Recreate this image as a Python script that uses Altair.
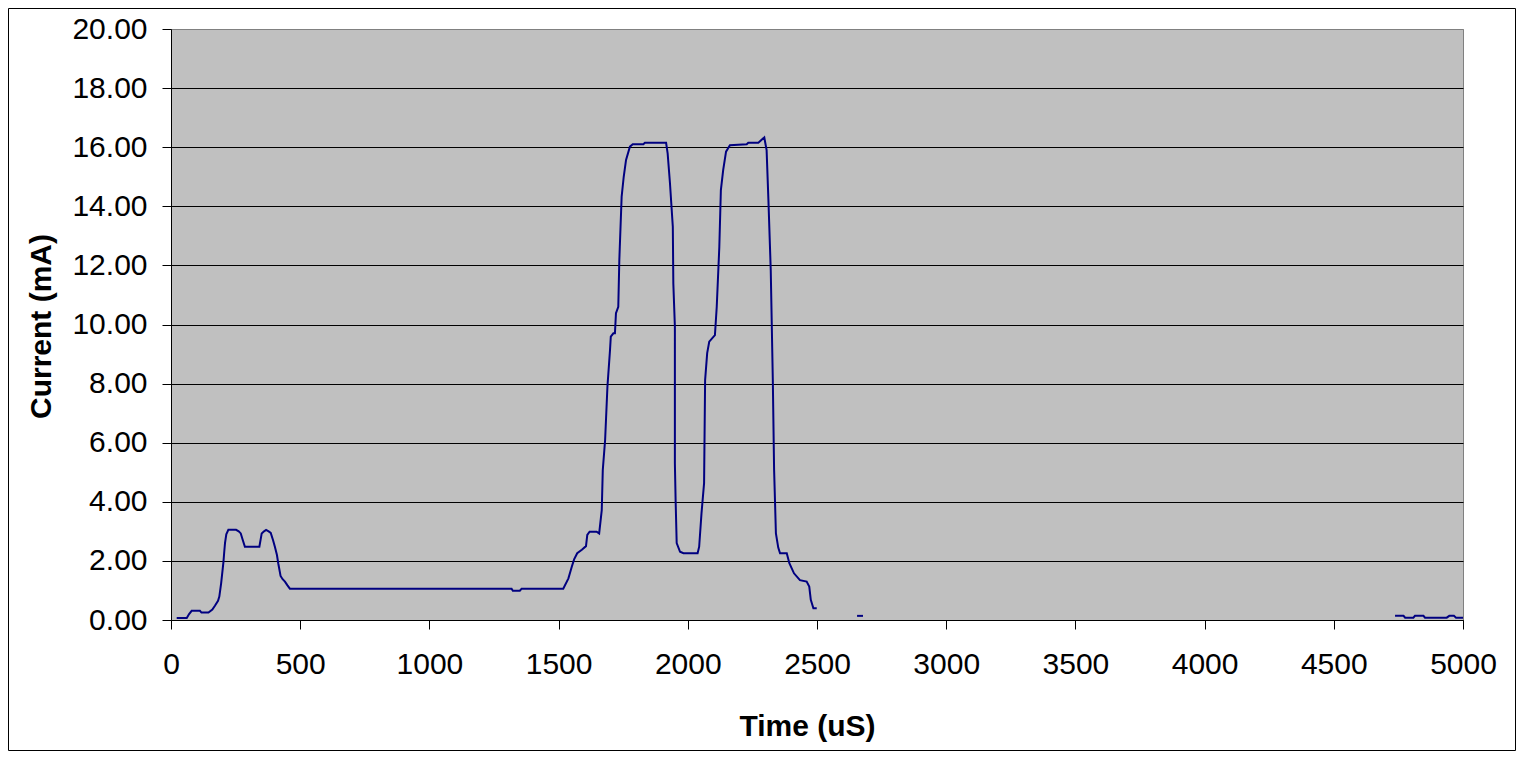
import altair as alt
import pandas as pd

# Segment A (main trace)
time_a = [22, 61, 70, 80, 112, 118, 145, 160, 170, 182, 187, 194, 203, 206, 209, 214, 222, 252, 262, 270,
          278, 286, 342, 351, 360, 368, 378, 386, 395, 402, 410, 415, 424, 432, 441, 450, 460, 1318, 1323,
          1350, 1357, 1518, 1538, 1551, 1560, 1572, 1590, 1606, 1611, 1620, 1647, 1657, 1667, 1671, 1680,
          1689, 1699, 1702, 1712, 1718, 1722, 1731, 1735, 1744, 1752, 1761, 1776, 1787, 1828, 1834, 1916,
          1922, 1931, 1942, 1944, 1950, 1950, 1953, 1957, 1970, 1983, 2038, 2044, 2053, 2063, 2067, 2075,
          2083, 2105, 2112, 2122, 2128, 2137, 2148, 2163, 2228, 2234, 2273, 2296, 2305, 2312, 2321, 2329,
          2334, 2341, 2350, 2357, 2383, 2393, 2411, 2434, 2460, 2470, 2476, 2486, 2499]
current_a = [0.07, 0.07, 0.20, 0.31, 0.31, 0.25, 0.25, 0.35, 0.48, 0.65, 0.79, 1.24, 1.97, 2.30, 2.60, 2.90,
             3.05, 3.05, 3.00, 2.93, 2.70, 2.48, 2.48, 2.93, 3.00, 3.05, 3.00, 2.95, 2.70, 2.48, 2.20, 1.92,
             1.49, 1.38, 1.30, 1.18, 1.06, 1.06, 0.99, 0.99, 1.06, 1.06, 1.41, 1.80, 2.05, 2.26, 2.38, 2.50,
             2.88, 2.99, 2.99, 2.93, 3.72, 5.08, 6.09, 7.90, 9.14, 9.59, 9.70, 9.70, 10.38, 10.60, 12.18,
             14.33, 15.00, 15.57, 16.02, 16.10, 16.10, 16.15, 16.15, 15.79, 14.78, 13.31, 11.39, 9.93, 5.30,
             4.00, 2.60, 2.31, 2.26, 2.26, 2.48, 3.61, 4.63, 8.12, 9.03, 9.42, 9.64, 10.60, 12.63, 14.55,
             15.23, 15.85, 16.07, 16.10, 16.15, 16.15, 16.33, 15.90, 14.21, 11.84, 8.12, 5.08, 2.93, 2.45,
             2.26, 2.26, 1.92, 1.58, 1.35, 1.30, 1.13, 0.68, 0.40, 0.40]

# Segment B (short blip)
time_b = [2655, 2678]
current_b = [0.14, 0.14]

# Segment C (tail)
time_c = [4737, 4770, 4776, 4808, 4814, 4847, 4853, 4937, 4947, 4965, 4973, 5000]
current_c = [0.14, 0.14, 0.08, 0.08, 0.14, 0.14, 0.08, 0.08, 0.14, 0.14, 0.08, 0.08]

x_ticks = list(range(0, 5001, 500))
y_ticks = list(range(0, 21, 2))

rows = []
idx = 0
for seg, ts, cs in (("A", time_a, current_a), ("B", time_b, current_b), ("C", time_c, current_c)):
    for t, c in zip(ts, cs):
        rows.append({"time": t, "current": c, "seg": seg, "i": idx})
        idx += 1
df = pd.DataFrame(rows)

W, H = 1292, 591
PL, PT, PR, PB = 163, 21, 53, 131

FONT = "Liberation Sans"

line = alt.Chart(df).mark_line(color="#000080", strokeWidth=2).encode(
    x=alt.X("time:Q",
            scale=alt.Scale(domain=[0, 5000], nice=False, zero=False),
            axis=alt.Axis(values=x_ticks, format="d", grid=False, title="Time (uS)",
                          tickSize=9, tickColor="black", domainColor="black", domainWidth=1,
                          labelFont=FONT, labelFontSize=30, labelColor="black",
                          labelBaseline="alphabetic", labelPadding=44,
                          labelFlush=False, labelOverlap=False,
                          titleFont=FONT, titleFontSize=30, titleFontWeight="bold", titleColor="black",
                          titleBaseline="alphabetic", titleX=636, titleY=115, titleAnchor="middle")),
    y=alt.Y("current:Q",
            scale=alt.Scale(domain=[0, 20], nice=False, zero=True),
            axis=alt.Axis(values=y_ticks, format=".2f", grid=True,
                          gridColor={"condition": {"test": "datum.value === 20", "value": "#808080"}, "value": "black"},
                          gridWidth=1, title="Current (mA)",
                          tickSize=9, tickColor="black", domainColor="black", domainWidth=1,
                          labelFont=FONT, labelFontSize=30, labelColor="black", labelPadding=15,
                          labelOverlap=False, labelFlush=False,
                          titleFont=FONT, titleFontSize=30, titleFontWeight="bold", titleColor="black",
                          titleBaseline="alphabetic", titleX=-121, titleY=297, titleAngle=270,
                          titleAnchor="middle")),
    detail="seg:N",
    order="i:Q",
)

border = alt.Chart(pd.DataFrame({"a": [0]})).mark_rect(
    fillOpacity=0, stroke="black", strokeWidth=1
).encode(
    x=alt.value(-PL + 0.5), x2=alt.value(W + PR - 0.5),
    y=alt.value(-PT + 0.5), y2=alt.value(H + PB - 0.5),
)

chart = alt.layer(line, border).properties(
    width=W, height=H,
    autosize=alt.AutoSizeParams(type="none"),
    padding={"left": PL, "top": PT, "right": PR, "bottom": PB},
    background="white",
).configure_view(
    fill="#C0C0C0", stroke="#808080", strokeWidth=1
)

chart.save("out.html", embed_options={"renderer": "svg", "actions": False})
